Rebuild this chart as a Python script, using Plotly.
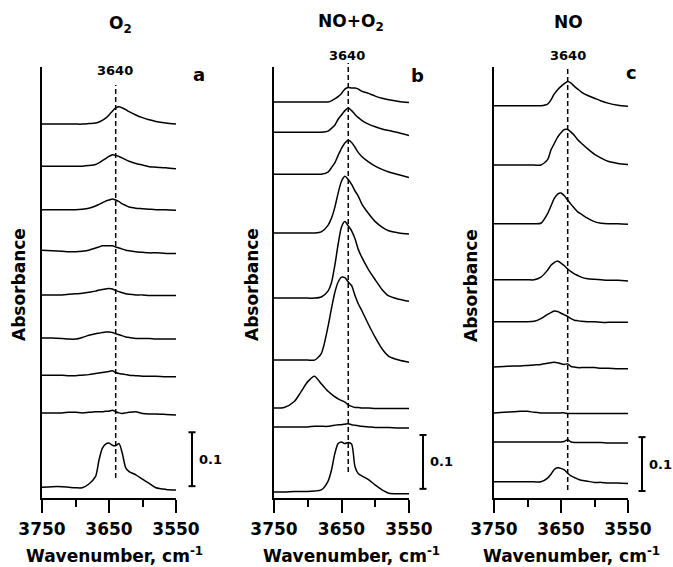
import plotly.graph_objects as go

# Wavenumber grid (cm-1) shared by every spectrum
WAVENUMBER = [3750, 3735, 3720, 3710, 3700, 3690, 3680, 3670, 3665, 3660, 3655, 3650,
              3645, 3640, 3635, 3630, 3625, 3620, 3610, 3600, 3590, 3580, 3565, 3550]

# Absorbance in milli-absorbance units, spectra listed top to bottom
O2_SPECTRA = [
    [0, 0, 0, 0, 0, 0, 1, 2, 4, 7, 11, 17, 24, 30, 32, 30, 27, 23, 17, 12, 8, 5, 2, 0],
    [0, 0, 0, 0, 0, 0, 1, 3, 6, 10, 14, 18, 21, 20, 18, 15, 12, 9, 5, 2, -1, -2, -3, -5],
    [0, 0, 0, 0, 0, 1, 3, 7, 10, 13, 16, 18, 20, 18, 15, 11, 8, 5, 3, 2, 1, 0, 0, -1],
    [0, -1, -2, -3, -3, -2, 0, 4, 6, 8, 8, 8, 8, 6, 4, 2, 0, -1, -3, -4, -5, -5, -6, -6],
    [0, 0, 0, 1, 2, 3, 5, 7, 9, 10, 11, 12, 11, 8, 6, 4, 2, 1, 0, 0, -1, -1, -1, -1],
    [0, 0, -1, -2, -2, 1, 5, 8, 9, 10, 11, 11, 10, 8, 6, 4, 2, 1, -1, -1, -1, -2, -2, -2],
    [0, 0, 0, -1, -1, 0, 1, 3, 4, 5, 6, 7, 8, 5, 3, 2, 1, 0, -1, -2, -2, -2, -3, -3],
    [0, 0, 0, 1, 1, 0, 1, 2, 2, 2, 3, 3, 5, 2, 0, -1, 0, 1, 2, -1, -2, -2, -3, -4],
    [0, 1, 1, 0, -1, -1, 6, 20, 50, 72, 80, 82, 78, 77, 81, 62, 36, 29, 23, 15, 7, -1, -4, -5],
]
NO_O2_SPECTRA = [
    [0, 0, 0, 0, 0, 0, 0, 0, 2, 6, 10, 16, 24, 27, 26, 26, 24, 20, 16, 11, 7, 4, 1, -1],
    [0, 0, 0, 0, 0, 0, 0, 2, 7, 13, 24, 32, 40, 45, 40, 33, 27, 22, 15, 10, 6, 3, -1, -6],
    [0, 0, 0, 0, 0, 0, 0, 4, 12, 21, 35, 48, 58, 63, 59, 50, 40, 33, 23, 15, 9, 4, -1, -6],
    [0, 0, 0, 0, 0, 0, 2, 14, 27, 47, 74, 96, 105, 99, 90, 78, 68, 54, 36, 21, 11, 4, 0, -2],
    [0, 0, 0, 0, 0, 0, 2, 13, 28, 60, 100, 132, 142, 134, 125, 110, 90, 76, 53, 34, 16, 4, -2, -6],
    [0, 0, 0, 0, 0, 0, 12, 62, 95, 125, 145, 154, 153, 145, 138, 120, 104, 92, 66, 42, 21, 7, 0, -4],
    [0, 1, 12, 30, 49, 59, 45, 31, 26, 21, 17, 14, 11, 6, 3, 1, 1, 0, 0, -1, -1, -1, -1, -1],
    [0, 0, 0, 0, 0, 1, 1, 1, 2, 3, 4, 4, 5, 6, 4, 3, 2, 1, 0, -1, -1, -1, -2, -2],
    [0, 0, 1, 1, 1, 2, 4, 20, 40, 71, 90, 93, 90, 92, 89, 47, 34, 30, 23, 13, 4, -2, -3, -3],
]
NO_SPECTRA = [
    [0, 0, 0, 0, 0, 0, 0, 3, 11, 22, 30, 36, 41, 45, 42, 36, 31, 26, 19, 14, 9, 5, 1, -1],
    [0, 0, 0, 0, 0, 0, 0, 10, 28, 40, 52, 60, 66, 66, 61, 55, 47, 41, 30, 20, 13, 7, 3, 1],
    [0, 0, 0, 0, 0, 0, 1, 19, 33, 47, 55, 57, 52, 44, 36, 29, 22, 18, 10, 4, 1, 0, 0, -1],
    [0, 0, 0, 0, 0, 0, 5, 18, 27, 32, 35, 31, 26, 20, 15, 11, 8, 5, 2, 1, 0, -1, -1, -2],
    [0, 0, 0, 0, 0, 1, 6, 14, 17, 20, 19, 16, 13, 10, 6, 3, 2, 1, 0, 0, -1, -1, -1, -1],
    [0, 1, 2, 2, 3, 4, 5, 7, 8, 9, 8, 6, 5, 6, 1, 0, -1, -1, -1, -1, -2, -2, -3, -3],
    [0, 1, 2, 3, 3, 1, 0, 0, 0, 0, 0, 0, 0, -1, -1, -1, -1, -1, -1, -1, -1, -1, -1, -1],
    [0, 0, 0, 0, 0, 0, 0, 0, 0, 0, 0, 0, 1, 4, 0, -1, -1, -1, -1, -1, -1, -2, -2, -2],
    [0, 0, 0, 0, 0, 0, 0, 7, 14, 23, 26, 25, 22, 16, 11, 8, 5, 3, 1, -1, -1, -2, -2, -3],
]

# Vertical stacking offsets (absorbance), top to bottom
O2_OFFSETS = [0.694, 0.616, 0.535, 0.460, 0.377, 0.297, 0.228, 0.158, 0.020]
NO_O2_OFFSETS = [0.735, 0.679, 0.601, 0.492, 0.371, 0.256, 0.167, 0.132, 0.011]
NO_OFFSETS = [0.728, 0.618, 0.509, 0.405, 0.327, 0.243, 0.158, 0.104, 0.030]

# Scale-bar base level (absorbance) per panel and its length
SCALE_BASE = [0.022, 0.017, 0.013]
SCALE_LEN = 0.1

PANEL_TITLES = ["O<sub>2</sub>", "NO+O<sub>2</sub>", "NO"]
PANEL_LETTERS = ["a", "b", "c"]
MARKER_WN = 3640
X_TICKS = [3750, 3650, 3550]

W, H = 673, 567
FONT = "DejaVu Sans"

panels = [
    dict(spectra=O2_SPECTRA, offsets=O2_OFFSETS, xdom=(42, 176), dash=(85, 478),
         title=(120, 24), mark=(115, 70), letter=(199, 74), ytitle=19, xtitle=114),
    dict(spectra=NO_O2_SPECTRA, offsets=NO_O2_OFFSETS, xdom=(274, 409), dash=(63, 472),
         title=(351, 22), mark=(347, 55), letter=(417, 75), ytitle=252, xtitle=351),
    dict(spectra=NO_SPECTRA, offsets=NO_OFFSETS, xdom=(494, 628), dash=(68, 490),
         title=(568, 22), mark=(568, 55), letter=(631, 73), ytitle=471, xtitle=571),
]

PLOT_TOP, PLOT_BOTTOM = 67, 498
ydom = [1 - PLOT_BOTTOM / H, 1 - PLOT_TOP / H]
yspan = (PLOT_BOTTOM - PLOT_TOP) / 538.75

fig = go.Figure()
shapes, annotations = [], []
layout = {}

for i, p in enumerate(panels):
    n = "" if i == 0 else str(i + 1)
    xa, ya = "x" + n, "y" + n
    for spec, off in zip(p["spectra"], p["offsets"]):
        fig.add_trace(go.Scatter(
            x=WAVENUMBER, y=[off + v / 1000 for v in spec], mode="lines",
            line=dict(color="black", width=1.5, shape="spline", smoothing=0.7),
            xaxis=xa, yaxis=ya, showlegend=False, hoverinfo="skip"))

    layout["xaxis" + n] = dict(
        domain=[p["xdom"][0] / W, p["xdom"][1] / W], anchor=ya,
        range=[3750, 3550], showline=True, linecolor="black", linewidth=1.5,
        showgrid=False, zeroline=False, ticks="outside", ticklen=13, tickwidth=1.5,
        tickcolor="black", tickmode="array", tickvals=X_TICKS,
        ticktext=[str(t) for t in X_TICKS], ticklabelstandoff=2,
        tickfont=dict(family=FONT, size=17, color="black", weight="bold"),
        minor=dict(ticks="outside", ticklen=7, tickwidth=1.5, tickcolor="black",
                   tickmode="linear", tick0=3550, dtick=50),
    )
    layout["yaxis" + n] = dict(
        domain=ydom, anchor=xa, range=[0, yspan], showline=True, linecolor="black",
        linewidth=1.5, showgrid=False, zeroline=False, showticklabels=False, ticks="",
    )

    # dashed marker at 3640 cm-1
    shapes.append(dict(type="line", xref=xa, yref="paper", x0=MARKER_WN, x1=MARKER_WN,
                       y0=1 - p["dash"][1] / H, y1=1 - p["dash"][0] / H,
                       line=dict(color="black", width=1.5, dash="5px,3px")))

    # 0.1 absorbance scale bar
    bx = 1.0 + (16 if i == 0 else 14) / (p["xdom"][1] - p["xdom"][0])
    cap = 3.5 / (p["xdom"][1] - p["xdom"][0])
    y0, y1 = SCALE_BASE[i], SCALE_BASE[i] + SCALE_LEN
    xd = xa + " domain"
    shapes.append(dict(type="line", xref=xd, yref=ya, x0=bx, x1=bx, y0=y0, y1=y1,
                       line=dict(color="black", width=2)))
    for yy in (y0, y1):
        shapes.append(dict(type="line", xref=xd, yref=ya, x0=bx - cap, x1=bx + cap,
                           y0=yy, y1=yy, line=dict(color="black", width=2)))
    annotations.append(dict(xref=xd, yref=ya, x=bx + 5 / (p["xdom"][1] - p["xdom"][0]),
                            y=(y0 + y1) / 2, text="0.1", showarrow=False,
                            xanchor="left", yanchor="middle",
                            font=dict(family=FONT, size=13, color="black", weight="bold")))

    annotations.append(dict(xref="paper", yref="paper", x=p["title"][0] / W,
                            y=1 - p["title"][1] / H, text=PANEL_TITLES[i], showarrow=False,
                            xanchor="center", yanchor="middle",
                            font=dict(family=FONT, size=17, color="black", weight="bold")))
    annotations.append(dict(xref="paper", yref="paper", x=p["mark"][0] / W,
                            y=1 - p["mark"][1] / H, text=str(MARKER_WN), showarrow=False,
                            xanchor="center", yanchor="middle",
                            font=dict(family=FONT, size=13, color="black", weight="bold")))
    annotations.append(dict(xref="paper", yref="paper", x=p["letter"][0] / W,
                            y=1 - p["letter"][1] / H, text=PANEL_LETTERS[i], showarrow=False,
                            xanchor="center", yanchor="middle",
                            font=dict(family=FONT, size=18, color="black", weight="bold")))
    annotations.append(dict(xref="paper", yref="paper", x=p["ytitle"] / W,
                            y=1 - 285 / H, text="Absorbance", showarrow=False, textangle=-90,
                            xanchor="center", yanchor="middle",
                            font=dict(family=FONT, size=17, color="black", weight="bold")))
    annotations.append(dict(xref="paper", yref="paper", x=p["xtitle"] / W,
                            y=1 - 555 / H, text="Wavenumber, cm<sup>-1</sup>",
                            showarrow=False, xanchor="center", yanchor="middle",
                            font=dict(family=FONT, size=17, color="black", weight="bold")))

fig.update_layout(
    width=W, height=H, margin=dict(l=0, r=0, t=0, b=0, autoexpand=False),
    paper_bgcolor="white", plot_bgcolor="white",
    shapes=shapes, annotations=annotations, **layout)

fig.write_html("out.html")
